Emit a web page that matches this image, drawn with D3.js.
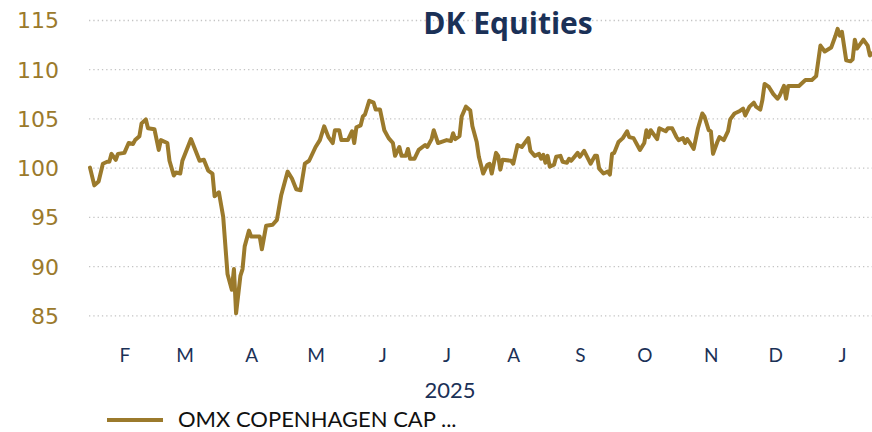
<!DOCTYPE html>
<html>
<head>
<meta charset="utf-8">
<script src="https://cdn.jsdelivr.net/npm/d3@7"></script>
<style>
  html, body { margin: 0; padding: 0; background: #ffffff; }
  svg { display: block; }
</style>
</head>
<body>
<svg id="chart" width="872" height="432"></svg>
<script>
// ---- data ----
const title = "DK Equities";
const seriesName = "OMX COPENHAGEN CAP ...";
const yearLabel = "2025";
const dates = [
  "2025-01-16","2025-01-18","2025-01-20","2025-01-22","2025-01-24","2025-01-25","2025-01-26","2025-01-28","2025-01-29",
  "2025-02-01","2025-02-03","2025-02-05","2025-02-06","2025-02-08","2025-02-09","2025-02-11","2025-02-12","2025-02-15",
  "2025-02-17","2025-02-18","2025-02-21","2025-02-22","2025-02-24","2025-02-25","2025-02-27","2025-02-28",
  "2025-03-04","2025-03-08","2025-03-10","2025-03-12","2025-03-14","2025-03-15","2025-03-17","2025-03-19","2025-03-21",
  "2025-03-23","2025-03-24","2025-03-25","2025-03-27","2025-03-28","2025-03-29","2025-03-31",
  "2025-04-01","2025-04-05","2025-04-06","2025-04-08","2025-04-11","2025-04-13","2025-04-15","2025-04-18","2025-04-20",
  "2025-04-22","2025-04-24","2025-04-26","2025-04-28",
  "2025-05-01","2025-05-03","2025-05-05","2025-05-07","2025-05-09","2025-05-10","2025-05-12","2025-05-13","2025-05-16",
  "2025-05-18","2025-05-19","2025-05-20","2025-05-22","2025-05-23","2025-05-24","2025-05-26","2025-05-28","2025-05-29","2025-05-31",
  "2025-06-02","2025-06-04","2025-06-06","2025-06-07","2025-06-09","2025-06-10","2025-06-12","2025-06-13","2025-06-14",
  "2025-06-16","2025-06-18","2025-06-21","2025-06-22","2025-06-24","2025-06-25","2025-06-27",
  "2025-07-01","2025-07-03","2025-07-04","2025-07-05","2025-07-07","2025-07-08","2025-07-10","2025-07-12","2025-07-13",
  "2025-07-15","2025-07-16","2025-07-18","2025-07-20","2025-07-21","2025-07-22","2025-07-24","2025-07-25","2025-07-26",
  "2025-07-27","2025-07-31",
  "2025-08-01","2025-08-03","2025-08-05","2025-08-08","2025-08-09","2025-08-11","2025-08-13","2025-08-14","2025-08-15",
  "2025-08-16","2025-08-17","2025-08-18","2025-08-20","2025-08-21","2025-08-23","2025-08-24","2025-08-26","2025-08-27",
  "2025-08-28","2025-08-31",
  "2025-09-01","2025-09-03","2025-09-06","2025-09-08","2025-09-09","2025-09-10","2025-09-12","2025-09-14","2025-09-15",
  "2025-09-16","2025-09-17","2025-09-19","2025-09-21","2025-09-23","2025-09-24","2025-09-26","2025-09-29",
  "2025-10-01","2025-10-02","2025-10-03","2025-10-04","2025-10-07","2025-10-08","2025-10-11","2025-10-12","2025-10-14",
  "2025-10-16","2025-10-17","2025-10-19","2025-10-20","2025-10-21","2025-10-22","2025-10-24","2025-10-26","2025-10-28",
  "2025-10-29","2025-10-31",
  "2025-11-01","2025-11-02","2025-11-04","2025-11-05","2025-11-07","2025-11-09","2025-11-10","2025-11-12","2025-11-14",
  "2025-11-16","2025-11-17","2025-11-19","2025-11-21","2025-11-22","2025-11-24","2025-11-25","2025-11-26","2025-11-28","2025-11-30",
  "2025-12-02","2025-12-03","2025-12-05","2025-12-06","2025-12-07","2025-12-12","2025-12-14","2025-12-15","2025-12-18",
  "2025-12-20","2025-12-22","2025-12-24","2025-12-27","2025-12-29","2025-12-30","2025-12-31",
  "2026-01-01","2026-01-03","2026-01-05","2026-01-06","2026-01-07","2026-01-08","2026-01-09","2026-01-11","2026-01-13",
  "2026-01-14","2026-01-15"
];
const values = [
  100.0,98.2,98.6,100.4,100.6,100.6,101.4,100.8,101.4,
  101.5,102.5,102.4,102.8,103.2,104.5,104.9,104.0,103.9,
  101.8,102.8,102.5,100.7,99.2,99.5,99.4,100.7,
  102.9,100.7,100.8,99.7,99.4,97.1,97.5,95.0,89.2,
  87.6,89.7,85.2,89.0,89.7,92.0,93.6,
  93.0,93.0,91.7,94.1,94.2,94.7,97.2,99.6,98.9,
  97.8,97.7,100.4,100.7,
  102.1,102.8,104.2,103.1,102.5,103.8,103.8,102.8,102.8,
  103.7,102.5,104.1,104.3,105.2,105.4,106.8,106.6,105.9,105.9,
  103.8,103.0,102.5,101.2,102.1,101.2,101.2,101.9,100.9,
  100.9,101.8,102.3,102.1,102.9,103.8,102.5,
  102.8,102.7,103.5,102.9,103.2,105.2,106.2,105.8,104.2,
  102.6,101.1,99.4,100.3,100.4,99.4,101.5,101.2,99.8,
  100.8,100.7,
  100.4,102.3,102.1,103.0,101.7,101.2,101.4,100.9,101.3,
  100.5,101.2,100.1,100.3,101.1,101.2,100.6,100.5,100.9,
  100.7,101.5,
  101.1,101.7,100.4,101.2,101.2,99.9,99.4,99.6,99.3,
  101.4,101.5,102.6,103.0,103.7,103.1,103.0,101.8,
  102.5,103.8,103.1,103.8,102.9,104.0,103.7,104.0,104.0,
  103.1,102.8,103.0,102.5,102.9,102.6,101.9,104.0,105.5,
  105.2,103.8,
  103.7,101.4,102.6,103.1,102.8,103.7,104.9,105.5,105.7,
  106.0,105.3,106.2,106.6,106.2,105.9,106.9,108.5,108.2,107.5,
  107.0,107.3,108.3,107.0,108.3,108.3,108.7,108.9,108.9,
  109.3,112.4,111.8,112.2,113.4,114.1,113.4,
  113.8,110.9,110.8,111.0,113.0,112.1,112.4,113.0,112.4,
  111.4,111.6
];
const yTicks = [85, 90, 95, 100, 105, 110, 115];
const monthTickDates = ["2025-02-01","2025-03-01","2025-04-01","2025-05-01","2025-06-01","2025-07-01",
                        "2025-08-01","2025-09-01","2025-10-01","2025-11-01","2025-12-01","2026-01-01"];
const monthLabels = ["F","M","A","M","J","J","A","S","O","N","D","J"];

// ---- chart ----
const parse = d3.timeParse("%Y-%m-%d");
const data = dates.map((d, i) => ({ date: parse(d), value: values[i] }));
const tickDates = monthTickDates.map(parse);

const gold = "#9b7a2c";
const navy = "#1b3157";
const mLeft = 90, mRight = 872, mTop = 20, mBottom = 315.3;

const svg = d3.select("#chart");
const x = d3.scaleTime().domain([parse("2025-01-16"), parse("2026-01-15")]).range([mLeft, mRight]);
const y = d3.scaleLinear().domain([85, 115]).range([mBottom, mTop]);

// gridlines
const grid = svg.append("g").attr("transform", `translate(${mLeft - 1},0)`)
  .call(d3.axisLeft(y).tickValues(yTicks).tickSize(-(mRight - mLeft + 1)).tickFormat(""));
grid.select(".domain").remove();
grid.selectAll("line").attr("stroke", "#c4c4c4").attr("stroke-width", 1.3).attr("stroke-dasharray", "1.3,3");

// y axis labels
const yAxis = svg.append("g").attr("transform", `translate(${mLeft},0)`)
  .call(d3.axisLeft(y).tickValues(yTicks).tickSize(0).tickPadding(31).tickFormat(d3.format("d")));
yAxis.select(".domain").remove();
yAxis.selectAll("text").attr("fill", gold).attr("font-family", "DejaVu Sans").attr("font-size", 22).attr("dy", "0.36em");

// x axis labels
const xAxis = svg.append("g").attr("transform", `translate(0,${mBottom})`)
  .call(d3.axisBottom(x).tickValues(tickDates).tickSize(0).tickPadding(33)
    .tickFormat((d, i) => monthLabels[i]));
xAxis.select(".domain").remove();
xAxis.selectAll("text").attr("fill", navy).attr("font-family", "Lato").attr("font-size", 19);

// line
svg.append("path").datum(data)
  .attr("fill", "none").attr("stroke", gold).attr("stroke-width", 4)
  .attr("stroke-linejoin", "round").attr("stroke-linecap", "round")
  .attr("d", d3.line().x(d => x(d.date)).y(d => y(d.value)));

// title
svg.append("text").attr("x", 508).attr("y", 34).attr("text-anchor", "middle")
  .attr("font-family", "Open Sans").attr("font-weight", 700).attr("font-size", 30)
  .attr("fill", navy).text(title);

// year label
svg.append("text").attr("x", 450).attr("y", 398).attr("text-anchor", "middle")
  .attr("font-family", "Lato").attr("font-size", 22).attr("fill", navy).text(yearLabel);

// legend
svg.append("line").attr("x1", 107).attr("x2", 163).attr("y1", 420).attr("y2", 420)
  .attr("stroke", gold).attr("stroke-width", 4);
svg.append("text").attr("x", 178).attr("y", 427)
  .attr("font-family", "Lato").attr("font-size", 22).attr("fill", "#111111").text(seriesName);
</script>
</body>
</html>
